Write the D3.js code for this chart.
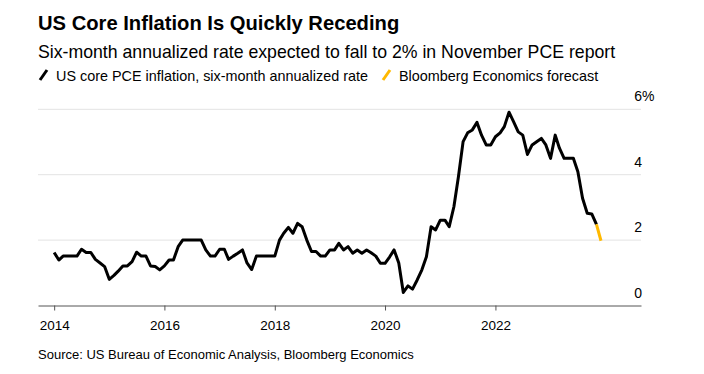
<!DOCTYPE html>
<html>
<head>
<meta charset="utf-8">
<script src="https://cdn.jsdelivr.net/npm/d3@7"></script>
<style>
  body { margin: 0; background: #fff; }
  svg { display: block; font-family: "Liberation Sans", Arial, sans-serif; }
</style>
</head>
<body>
<div id="chart"></div>
<script>
// monthly six-month annualized core PCE, Dec 2013 .. Oct 2023
const coreValues = [
  1.62, 1.39, 1.51, 1.51, 1.51, 1.51, 1.72, 1.62, 1.62, 1.41,
  1.30, 1.19, 0.80, 0.92, 1.05, 1.21, 1.21, 1.34, 1.63, 1.51,
  1.51, 1.21, 1.19, 1.09, 1.21, 1.39, 1.39, 1.80, 2.00, 2.00,
  2.00, 2.00, 2.00, 1.70, 1.51, 1.51, 1.72, 1.72, 1.41, 1.51,
  1.60, 1.70, 1.30, 1.10, 1.51, 1.51, 1.51, 1.51, 1.51, 2.00,
  2.21, 2.39, 2.21, 2.51, 2.41, 2.00, 1.65, 1.65, 1.51, 1.51,
  1.70, 1.70, 1.90, 1.70, 1.80, 1.60, 1.70, 1.60, 1.70, 1.61,
  1.51, 1.29, 1.29, 1.49, 1.70, 1.30, 0.40, 0.60, 0.50, 0.78,
  1.09, 1.49, 2.41, 2.31, 2.61, 2.61, 2.41, 3.02, 3.94, 5.01,
  5.28, 5.37, 5.60, 5.21, 4.91, 4.91, 5.16, 5.28, 5.47, 5.91,
  5.62, 5.31, 5.21, 4.62, 4.91, 5.01, 5.11, 4.91, 4.50, 5.21,
  4.81, 4.50, 4.50, 4.50, 4.09, 3.28, 2.82, 2.80, 2.48
];
// Bloomberg Economics forecast for November 2023
const forecastValues = [1.98];
const firstMonth = new Date(2013, 11, 1);

const tickYears = [2014, 2016, 2018, 2020, 2022];
const yTicks = [0, 2, 4, 6];

const width = 704;
const height = 374;
const plotLeft = 38;
const plotRight = 641;
const plotTop = 109.3;
const plotBottom = 305.5;

const svg = d3.select("#chart")
  .append("svg")
  .attr("width", width)
  .attr("height", height);

// points sit at the end of their month
const monthEnd = (i) => d3.timeMonth.offset(firstMonth, i + 1);
const actual = coreValues.map((v, i) => ({ date: monthEnd(i), value: v }));
const forecast = [actual[actual.length - 1]].concat(
  forecastValues.map((v, i) => ({ date: monthEnd(coreValues.length + i), value: v }))
);

const x = d3.scaleTime()
  .domain([new Date(2013, 8, 16), new Date(2024, 7, 22)])
  .range([plotLeft, plotRight]);
const y = d3.scaleLinear().domain([0, 6]).range([plotBottom, plotTop]);

// titles
svg.append("text")
  .attr("x", plotLeft).attr("y", 30)
  .attr("font-size", 20.2).attr("font-weight", "bold").attr("fill", "#000")
  .text("US Core Inflation Is Quickly Receding");
svg.append("text")
  .attr("x", plotLeft).attr("y", 58)
  .attr("font-size", 17.7).attr("fill", "#000")
  .text("Six-month annualized rate expected to fall to 2% in November PCE report");

// legend
const legend = svg.append("g").attr("transform", "translate(0,81)");
[
  { label: "US core PCE inflation, six-month annualized rate", color: "#000", x: plotLeft },
  { label: "Bloomberg Economics forecast", color: "#ffb900", x: 381 }
].forEach((d) => {
  legend.append("line")
    .attr("x1", d.x + 2).attr("y1", -1)
    .attr("x2", d.x + 9).attr("y2", -11)
    .attr("stroke", d.color).attr("stroke-width", 3);
  legend.append("text")
    .attr("x", d.x + 18).attr("y", 0)
    .attr("font-size", 14.4).attr("fill", "#000")
    .text(d.label);
});

// grid lines
svg.append("g")
  .selectAll("line")
  .data(yTicks.filter((d) => d > 0))
  .join("line")
  .attr("x1", plotLeft).attr("x2", plotRight)
  .attr("y1", (d) => y(d)).attr("y2", (d) => y(d))
  .attr("stroke", "#e3e3e3");

// y labels on the right, above the lines
const yLabels = svg.append("g")
  .attr("font-size", 14).attr("fill", "#000");
yLabels.selectAll("text")
  .data(yTicks)
  .join("text")
  .attr("x", plotRight + 1)
  .attr("y", (d) => y(d) - 8)
  .attr("text-anchor", "end")
  .text((d) => d);
yLabels.append("text")
  .attr("x", plotRight + 1)
  .attr("y", y(6) - 8)
  .text("%");

// x axis
const xAxis = svg.append("g")
  .attr("transform", `translate(0,${plotBottom})`)
  .call(d3.axisBottom(x)
    .tickValues(tickYears.map((yr) => new Date(yr, 0, 1)))
    .tickFormat(d3.timeFormat("%Y"))
    .tickSize(5)
    .tickSizeOuter(0)
    .tickPadding(10));
xAxis.select(".domain").attr("stroke", "#555");
xAxis.selectAll(".tick line").attr("stroke", "#555");
xAxis.selectAll(".tick text")
  .attr("font-size", 13.5)
  .attr("font-family", "Liberation Sans, Arial, sans-serif")
  .attr("fill", "#000");

// lines
const line = d3.line()
  .x((d) => x(d.date))
  .y((d) => y(d.value));

svg.append("path")
  .datum(actual)
  .attr("fill", "none")
  .attr("stroke", "#000")
  .attr("stroke-width", 3)
  .attr("stroke-linejoin", "round")
  .attr("d", line);

svg.append("path")
  .datum(forecast)
  .attr("fill", "none")
  .attr("stroke", "#ffb900")
  .attr("stroke-width", 3)
  .attr("d", line);

// source
svg.append("text")
  .attr("x", plotLeft).attr("y", 359)
  .attr("font-size", 13).attr("fill", "#000")
  .text("Source: US Bureau of Economic Analysis, Bloomberg Economics");
</script>
</body>
</html>
